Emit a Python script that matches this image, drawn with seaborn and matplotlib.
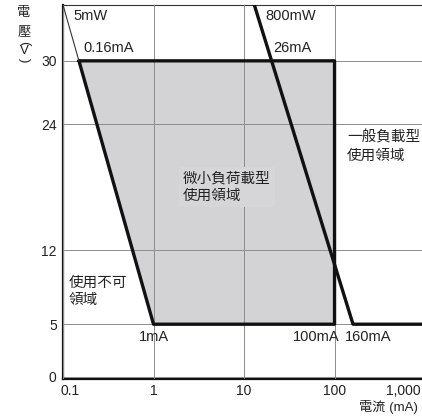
import matplotlib
matplotlib.use("Agg")
import matplotlib.pyplot as plt
import matplotlib.ticker as mticker
import matplotlib.transforms as mtransforms
import seaborn as sns

# axis ticks
voltage_ticks = [0, 5, 12, 24, 30]
current_ticks = [0.1, 1, 10, 100, 1000]
current_labels = ["0.1", "1", "10", "100", "1,000"]

# micro-load usable area (current mA, voltage V), closed outline
micro_i = [0.15, 100, 100, 1, 0.15]
micro_v = [30, 30, 5, 5, 30]

# 5mW line above the 30 V corner
low_i = [0.1, 0.15]
low_v = [35.3, 30]

# general load boundary: 800mW line then 5 V floor
general_i = [13, 160, 3000]
general_v = [35.3, 5, 5]

sns.set_theme(style="white")
plt.rcParams["font.family"] = ["Liberation Sans", "Noto Sans CJK TC", "DejaVu Sans"]

fig = plt.figure(figsize=(4.22, 4.18), dpi=100)
ax = fig.add_axes([63 / 422, 39 / 418, 389.3 / 422, 374 / 418])
ax.set_xscale("log")
ax.set_xlim(0.1, 2000)
ax.set_ylim(-0.2, 35.3)

# shaded micro-load area
ax.fill(micro_i, micro_v, color="#d3d3d6", lw=0, zorder=1)
sns.lineplot(x=micro_i, y=micro_v, sort=False, estimator=None, color="#111111",
             lw=2.4, ax=ax, zorder=4)
sns.lineplot(x=low_i, y=low_v, sort=False, estimator=None, color="#333333",
             lw=0.8, ax=ax, zorder=4)
sns.lineplot(x=general_i, y=general_v, sort=False, estimator=None, color="#111111",
             lw=2.4, ax=ax, zorder=4)

# grid and axes
ax.set_axisbelow(False)
ax.xaxis.set_minor_locator(mticker.NullLocator())
ax.set_xticks(current_ticks)
ax.set_xticklabels(current_labels)
ax.set_yticks(voltage_ticks)
ax.grid(True, color="#8c8c8c", lw=0.7, zorder=2)
ax.tick_params(axis="both", length=0, labelsize=10, colors="#222222")
ax.tick_params(axis="y", pad=4.5)
ax.tick_params(axis="x", pad=3.5)
for name in ["left", "bottom"]:
    ax.spines[name].set_color("#111111")
    ax.spines[name].set_linewidth(1.6)
ax.spines["top"].set_color("#333333")
ax.spines["top"].set_linewidth(0.8)
ax.spines["right"].set_visible(False)

# shift first and last x tick labels like the reference
labels = ax.get_xticklabels()
for lbl, dx in [(labels[0], 5), (labels[-1], -16)]:
    lbl.set_transform(lbl.get_transform() +
                      mtransforms.ScaledTranslation(dx / 72, 0, fig.dpi_scale_trans))

# annotations
txt = dict(fontsize=10.5, color="#222222", va="center", zorder=5)
ax.text(0.129, 34.3, "5mW", ha="left", **txt)
ax.text(0.166, 31.2, "0.16mA", ha="left", **txt)
ax.text(17.1, 34.3, "800mW", ha="left", **txt)
ax.text(20.9, 31.2, "26mA", ha="left", **txt)
ax.text(1.0, 3.8, "1mA", ha="center", **txt)
ax.text(62.5, 3.8, "100mA", ha="center", **txt)
ax.text(234, 3.8, "160mA", ha="center", **txt)
ax.text(137, 21.9, "一般負載型\n使用領域", ha="left", linespacing=1.4, **txt)
ax.text(2.12, 18.0, "微小負荷載型\n使用領域", ha="left", linespacing=1.3,
        bbox=dict(facecolor="#d6d6d9", edgecolor="none", pad=3), **txt)
ax.text(0.1165, 8.1, "使用不可\n領域", ha="left", linespacing=1.25, **txt)

# axis titles
fig.text(359 / 422, 1 - 407 / 418, "電流 (mA)", fontsize=9.5, color="#222222",
         ha="left", va="center")
ylab = dict(fontsize=9.5, color="#222222", ha="center", va="center")
fig.text(24 / 422, 1 - 13 / 418, "電", **ylab)
fig.text(24 / 422, 1 - 32 / 418, "壓", **ylab)
fig.text(24 / 422, 1 - 43 / 418, "(", rotation=-90, **ylab)
fig.text(24 / 422, 1 - 51 / 418, "V", **ylab)
fig.text(24 / 422, 1 - 60 / 418, ")", rotation=-90, **ylab)

fig.savefig("out.png", dpi=100)
